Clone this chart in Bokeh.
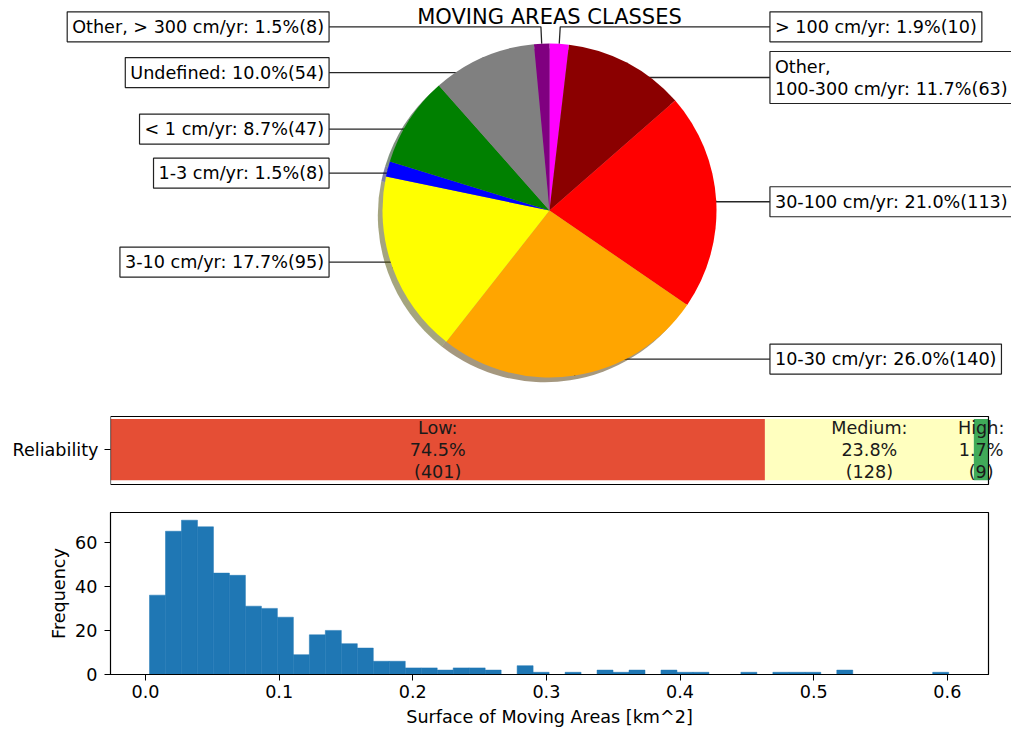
import numpy as np
from bokeh.plotting import figure
from bokeh.models import Label, FixedTicker, Range1d, PrintfTickFormatter
from bokeh.embed import file_html
from bokeh.resources import INLINE
from bokeh.core.properties import value

# ---------------- data ----------------
pie_names = ["> 100 cm/yr", "Other,\n100-300 cm/yr", "30-100 cm/yr", "10-30 cm/yr",
             "3-10 cm/yr", "1-3 cm/yr", "< 1 cm/yr", "Undefined", "Other, > 300 cm/yr"]
pie_counts = [10, 63, 113, 140, 95, 8, 47, 54, 8]
pie_colors = ["#ff00ff", "#8b0000", "#ff0000", "#ffa500", "#ffff00",
              "#0000ff", "#008000", "#808080", "#800080"]
pie_title = "MOVING AREAS CLASSES"

rel_names = ["Low", "Medium", "High"]
rel_counts = [401, 128, 9]
rel_colors = ["#e54e35", "#ffffbf", "#40aa59"]
rel_category = "Reliability"

hist_counts = [36, 65, 70, 67, 46, 45, 31, 30, 26, 9, 18, 20, 14, 12, 6, 6, 3, 3, 2, 3, 3, 2, 0, 4, 1,
               0, 1, 0, 2, 1, 2, 0, 2, 1, 1, 0, 0, 1, 0, 1, 1, 1, 0, 2, 0, 0, 0, 0, 0, 1]
hist_min, hist_max = 0.0030, 0.6010
hist_xticks = [0.0, 0.1, 0.2, 0.3, 0.4, 0.5, 0.6]
hist_yticks = [0, 20, 40, 60]
hist_xlabel = "Surface of Moving Areas [km^2]"
hist_ylabel = "Frequency"

FONT = "DejaVu Sans"
FS = "17.6px"
W = 1011

# ---------------- pie ----------------
R_PX = 167.0
cx_px, cy_px = 549.0, 210.0
pie_h = 398
p1 = figure(width=W, height=pie_h,
            x_range=Range1d(-cx_px / R_PX, (W - cx_px) / R_PX),
            y_range=Range1d(-(pie_h - cy_px) / R_PX, cy_px / R_PX),
            min_border=0, toolbar_location=None, output_backend="svg",
            x_axis_type=None, y_axis_type=None)
p1.outline_line_color = None

total = sum(pie_counts)
fr = np.array(pie_counts) / total
cum = np.concatenate([[0.0], np.cumsum(fr)])
end_a = np.pi / 2 - 2 * np.pi * cum[:-1]
start_a = np.pi / 2 - 2 * np.pi * cum[1:]
mid = (start_a + end_a) / 2

label_top_override = {"> 100 cm/yr": 1.1, "Other, > 300 cm/yr": 1.1}
box_x = 1.32

xs, ys = [], []
label_specs = []
for i, name in enumerate(pie_names):
    c, s = np.cos(mid[i]), np.sin(mid[i])
    side = 1 if c > 0 else -1
    ly = label_top_override.get(name, 0.9 * s)
    xb = ly * c / s if abs(s) > 1e-6 else c
    xs.append([side * box_x, xb, c])
    ys.append([ly, ly, s])
    pct = 100.0 * pie_counts[i] / total
    label_specs.append((side, ly, f"{name}: {pct:.1f}%({pie_counts[i]})"))

p1.multi_line(xs, ys, line_color="#262626", line_width=1.3)


def darken(h):
    r, g, b = int(h[1:3], 16), int(h[3:5], 16), int(h[5:7], 16)
    return "#%02x%02x%02x" % (int(0.3 * r), int(0.3 * g), int(0.3 * b))


sh = 0.028
p1.wedge(x=-sh, y=-sh, radius=1.0, start_angle=start_a, end_angle=end_a,
         fill_color=[darken(c) for c in pie_colors], fill_alpha=0.5, line_color=None)
p1.wedge(x=0, y=0, radius=1.0, start_angle=start_a, end_angle=end_a,
         fill_color=pie_colors, line_color=None)

for side, ly, txt in label_specs:
    p1.add_layout(Label(x=side * box_x, y=ly, text=txt,
                        text_align="left" if side > 0 else "right", text_baseline="middle",
                        text_font=FONT, text_font_size=FS, text_color="black",
                        text_line_height=1.1, padding=5,
                        border_line_color="#222222", border_line_width=1.2,
                        background_fill_color="white", background_fill_alpha=1.0))

p1.add_layout(Label(x=0, y=(cy_px - 16.5) / R_PX, text=pie_title, text_align="center",
                    text_baseline="middle", text_font=FONT, text_font_size="21px",
                    text_color="black"))

# ---------------- reliability bar ----------------
rel_total = sum(rel_counts)
rel_right = np.cumsum(rel_counts)
rel_left = rel_right - np.array(rel_counts)
rel_center = (rel_left + rel_right) / 2
rel_text = [f"{n}:\n{100.0 * c / rel_total:.1f}%\n({c})" for n, c in zip(rel_names, rel_counts)]

frame_left_px, box_right_px = 110.0, 988.0
px_per_unit = (box_right_px - frame_left_px) / rel_total
x_end = (W - frame_left_px) / px_per_unit
box_bottom, box_top = -0.456, 0.434

p2 = figure(width=W, height=100,
            x_range=Range1d(0, x_end), y_range=Range1d(-0.482, 0.46),
            min_border_left=110, min_border_right=0, min_border_top=16, min_border_bottom=12,
            toolbar_location=None, output_backend="svg")
p2.hbar(y=0, left=rel_left, right=rel_right, height=0.8, fill_color=rel_colors, line_color=None)
p2.quad(left=0, right=rel_total, bottom=box_bottom, top=box_top,
        fill_color=None, line_color="black", line_width=1.2)
p2.text(x=rel_center, y=[0.0] * 3, text=rel_text, text_align="center", text_baseline="middle",
        text_font=value(FONT), text_font_size=FS, text_line_height=1.1, text_color="#1a1a1a")
p2.xaxis.visible = False
p2.grid.visible = False
p2.outline_line_color = None
p2.yaxis.ticker = FixedTicker(ticks=[0])
p2.yaxis.major_label_overrides = {0: rel_category}
p2.yaxis.major_label_text_font = FONT
p2.yaxis.major_label_text_font_size = FS
p2.yaxis.major_label_text_color = "black"
p2.yaxis.major_tick_out = 6
p2.yaxis.major_tick_in = 0
p2.yaxis.minor_tick_line_color = None
p2.yaxis.major_label_standoff = 6
p2.yaxis.axis_line_color = None
p2.yaxis.major_tick_line_color = "black"

# ---------------- histogram ----------------
edges = np.linspace(hist_min, hist_max, len(hist_counts) + 1)
p3 = figure(width=W, height=235,
            x_range=Range1d(-0.0262, 0.6308), y_range=Range1d(0, 73.5),
            min_border_left=110, min_border_right=23, min_border_top=14, min_border_bottom=59,
            toolbar_location=None, output_backend="svg")
p3.quad(left=edges[:-1], right=edges[1:], bottom=0, top=hist_counts,
        fill_color="#1f77b4", line_color="#1f77b4", line_width=0.5)
p3.grid.visible = False
p3.outline_line_color = "black"
p3.outline_line_width = 1.2
p3.outline_line_alpha = 1.0
p3.xaxis.ticker = FixedTicker(ticks=hist_xticks)
p3.xaxis.formatter = PrintfTickFormatter(format="%.1f")
p3.yaxis.ticker = FixedTicker(ticks=hist_yticks)
p3.xaxis.axis_label = hist_xlabel
p3.yaxis.axis_label = hist_ylabel
for ax in (p3.xaxis, p3.yaxis):
    ax.major_label_text_font = FONT
    ax.major_label_text_font_size = FS
    ax.major_label_text_color = "black"
    ax.axis_label_text_font = FONT
    ax.axis_label_text_font_size = FS
    ax.axis_label_text_font_style = "normal"
    ax.axis_label_text_color = "black"
    ax.major_tick_out = 6
    ax.major_tick_in = 0
    ax.minor_tick_line_color = None
    ax.axis_line_color = "black"
    ax.major_tick_line_color = "black"
p3.xaxis.major_label_standoff = 4
p3.xaxis.axis_label_standoff = 6
p3.yaxis.major_label_standoff = 7
p3.yaxis.axis_label_standoff = 3

open("out.html", "w").write(file_html([p1, p2, p3], INLINE))
